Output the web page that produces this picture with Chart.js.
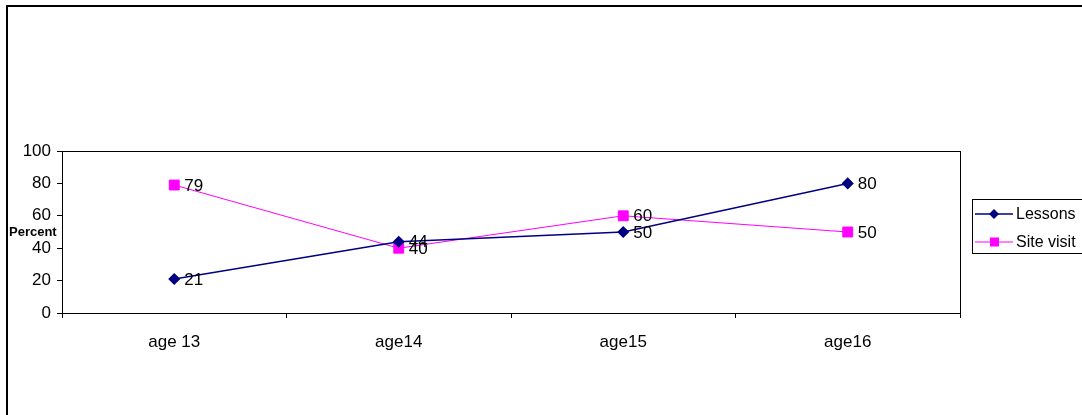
<!DOCTYPE html>
<html>
<head>
<meta charset="utf-8">
<script src="https://cdn.jsdelivr.net/npm/chart.js@4/dist/chart.umd.min.js"></script>
<style>
  html, body { margin: 0; padding: 0; background: #fff; }
  #wrap { width: 1082px; height: 415px; }
</style>
</head>
<body>
<div id="wrap"><canvas id="myChart" width="1082" height="415"></canvas></div>
<script>
// data
var ages = ['age 13', 'age14', 'age15', 'age16'];
var lessons = [21, 44, 50, 80];
var siteVisit = [79, 40, 60, 50];
var yTicks = [0, 20, 40, 60, 80, 100];

var FONT = 'Arial, "Liberation Sans", sans-serif';

// outer frame, plot border, value labels, axis title and legend
var decor = {
  id: 'decor',
  beforeDraw: function(chart) {
    var c = chart.ctx;
    c.save();
    c.fillStyle = '#fff';
    c.fillRect(0, 0, chart.width, chart.height);
    c.strokeStyle = '#000';
    c.lineWidth = 2;
    c.strokeRect(7, 6, 1200, 600);
    c.restore();
  },
  afterDatasetsDraw: function(chart) {
    var c = chart.ctx;
    var a = chart.chartArea;
    c.save();
    c.strokeStyle = '#000';
    c.lineWidth = 1;
    c.strokeRect(Math.round(a.left) + 0.5, Math.round(a.top) + 0.5,
                 Math.round(a.right - a.left), Math.round(a.bottom - a.top));

    // value labels
    c.fillStyle = '#000';
    c.font = '17px ' + FONT;
    c.textAlign = 'left';
    c.textBaseline = 'middle';
    chart.data.datasets.forEach(function(ds, i) {
      chart.getDatasetMeta(i).data.forEach(function(pt, j) {
        c.fillText(ds.data[j], pt.x + 10, pt.y + 1);
      });
    });

    // y axis title
    c.font = 'bold 13px ' + FONT;
    c.textAlign = 'left';
    c.fillText('Percent', 9, 232);

    // legend
    c.strokeStyle = '#000';
    c.lineWidth = 1;
    c.strokeRect(972.5, 199.5, 140, 54);
    c.font = '16px ' + FONT;
    chart.data.datasets.forEach(function(ds, i) {
      var y = 214 + i * 28;
      c.strokeStyle = ds.borderColor;
      c.lineWidth = ds.borderWidth;
      c.beginPath();
      c.moveTo(975, y);
      c.lineTo(1013, y);
      c.stroke();
      c.fillStyle = ds.borderColor;
      if (ds.pointStyle === 'rect') {
        c.fillRect(990, y - 4.5, 9, 9);
      } else {
        c.beginPath();
        c.moveTo(994, y - 5);
        c.lineTo(999, y);
        c.lineTo(994, y + 5);
        c.lineTo(989, y);
        c.closePath();
        c.fill();
      }
      c.fillStyle = '#000';
      c.fillText(ds.label, 1016, y + 1);
    });
    c.restore();
  }
};

var ctx = document.getElementById('myChart').getContext('2d');
var chart = new Chart(ctx, {
  type: 'line',
  data: {
    labels: ages,
    datasets: [{
      label: 'Lessons',
      data: lessons,
      borderColor: '#000080',
      backgroundColor: '#000080',
      borderWidth: 1.5,
      pointStyle: 'rectRot',
      pointRadius: 5,
      pointHoverRadius: 5,
      tension: 0
    }, {
      label: 'Site visit',
      data: siteVisit,
      borderColor: '#FF00FF',
      backgroundColor: '#FF00FF',
      borderWidth: 1,
      pointStyle: 'rect',
      pointRadius: 7,
      pointHoverRadius: 7,
      tension: 0
    }]
  },
  options: {
    responsive: false,
    animation: false,
    devicePixelRatio: 1,
    layout: { padding: { left: 0, top: 151, right: 122, bottom: 0 } },
    plugins: {
      legend: { display: false },
      title: { display: false },
      tooltip: { enabled: false }
    },
    scales: {
      x: {
        offset: true,
        grid: {
          offset: true,
          drawOnChartArea: false,
          drawTicks: true,
          tickLength: 5,
          color: '#000'
        },
        border: { color: '#000' },
        ticks: { color: '#000', font: { family: FONT, size: 17 }, padding: 14, maxRotation: 0 },
        afterFit: function(s) { s.height = 102; }
      },
      y: {
        min: 0,
        max: 100,
        afterBuildTicks: function(s) { s.ticks = yTicks.map(function(v) { return { value: v }; }); },
        grid: {
          drawOnChartArea: false,
          drawTicks: true,
          tickLength: 5,
          color: '#000'
        },
        border: { color: '#000' },
        ticks: { color: '#000', font: { family: FONT, size: 17 }, padding: 6 },
        afterFit: function(s) { s.width = 62; }
      }
    }
  },
  plugins: [decor]
});
</script>
</body>
</html>
